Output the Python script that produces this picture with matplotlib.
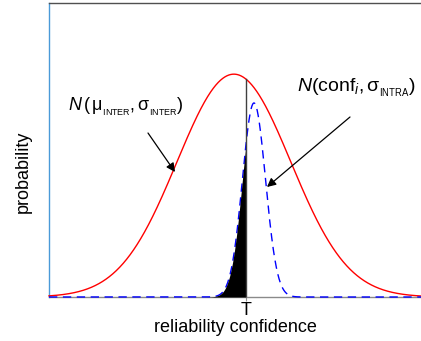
import numpy as np
import matplotlib
matplotlib.use("Agg")
import matplotlib.pyplot as plt

plt.rcParams['font.family'] = ['Liberation Sans', 'DejaVu Sans']
plt.rcParams['mathtext.fontset'] = 'custom'
plt.rcParams['mathtext.rm'] = 'Liberation Sans'
plt.rcParams['mathtext.it'] = 'Liberation Sans:italic'
plt.rcParams['mathtext.bf'] = 'Liberation Sans:bold'
plt.rcParams['mathtext.sf'] = 'Liberation Sans'

# Conceptual distributions (parameters)
inter_mu, inter_sigma, inter_peak = 0.497, 0.153, 0.758
intra_mu, intra_sigma, intra_peak = 0.551, 0.031, 0.660
threshold = 0.53
tick_labels = ["T"]
x_label = "reliability confidence"
y_label = "probability"
label_inter = r"$N\,(\,\mathrm{μ}_{_{\mathrm{INTER}}},\mathrm{σ}_{_{\mathrm{INTER}}})$"
label_intra = r"$N(\mathrm{conf}_{i},\mathrm{σ}_{_{\mathrm{INTRA}}})$"

x = np.linspace(0, 1, 1500)
red = inter_peak * np.exp(-0.5 * ((x - inter_mu) / inter_sigma) ** 2)
blue = intra_peak * np.exp(-0.5 * ((x - intra_mu) / intra_sigma) ** 2)

fig = plt.figure(figsize=(4.21, 3.41), dpi=100)
ax = fig.add_axes([49 / 421, 1 - 297 / 341, 1 - 49 / 421, (297 - 3) / 341])
ax.set_xlim(0, 1)
ax.set_ylim(0, 1)

mask = x <= threshold
ax.fill_between(x[mask], 0, blue[mask], color='black', lw=0, zorder=5)
ax.plot(x, red, color='red', lw=1.0, zorder=3, clip_on=False)
ax.plot(x, blue, color='blue', lw=1.0, ls=(0, (6, 4)), zorder=4, clip_on=False)
red_T = inter_peak * np.exp(-0.5 * ((threshold - inter_mu) / inter_sigma) ** 2)
ax.plot([threshold, threshold], [0, red_T], color='#404040', lw=1.0, zorder=6)

ax.spines['right'].set_visible(False)
ax.spines['left'].set_color('#4a9ad8')
ax.spines['top'].set_color('#505050')
ax.spines['bottom'].set_color('#8a8a8a')
for s in ax.spines.values():
    s.set_linewidth(1.0)

ax.set_yticks([])
ax.set_xticks([threshold])
ax.set_xticklabels(tick_labels, fontsize=13)
ax.tick_params(axis='x', length=3, color='#909090', pad=0.5)
ax.set_xlabel(x_label, fontsize=13, labelpad=0)
ax.set_ylabel(y_label, fontsize=13)
ax.yaxis.set_label_coords(-0.045, 0.425)

arrow_kw = dict(arrowstyle='-|>', color='black', lw=0.9,
                shrinkA=0, shrinkB=0, mutation_scale=13)

ax.text(126, 341 - 111, label_inter, transform=None, fontsize=13,
        ha='center', va='baseline')
ax.annotate('', xy=(175, 341 - 172), xycoords='figure pixels',
            xytext=(148, 341 - 133), textcoords='figure pixels',
            arrowprops=arrow_kw)
ax.text(356, 341 - 92, label_intra, transform=None, fontsize=14,
        ha='center', va='baseline')
ax.annotate('', xy=(267, 341 - 187), xycoords='figure pixels',
            xytext=(350, 341 - 117), textcoords='figure pixels',
            arrowprops=arrow_kw)

fig.savefig('out.png', dpi=100)
